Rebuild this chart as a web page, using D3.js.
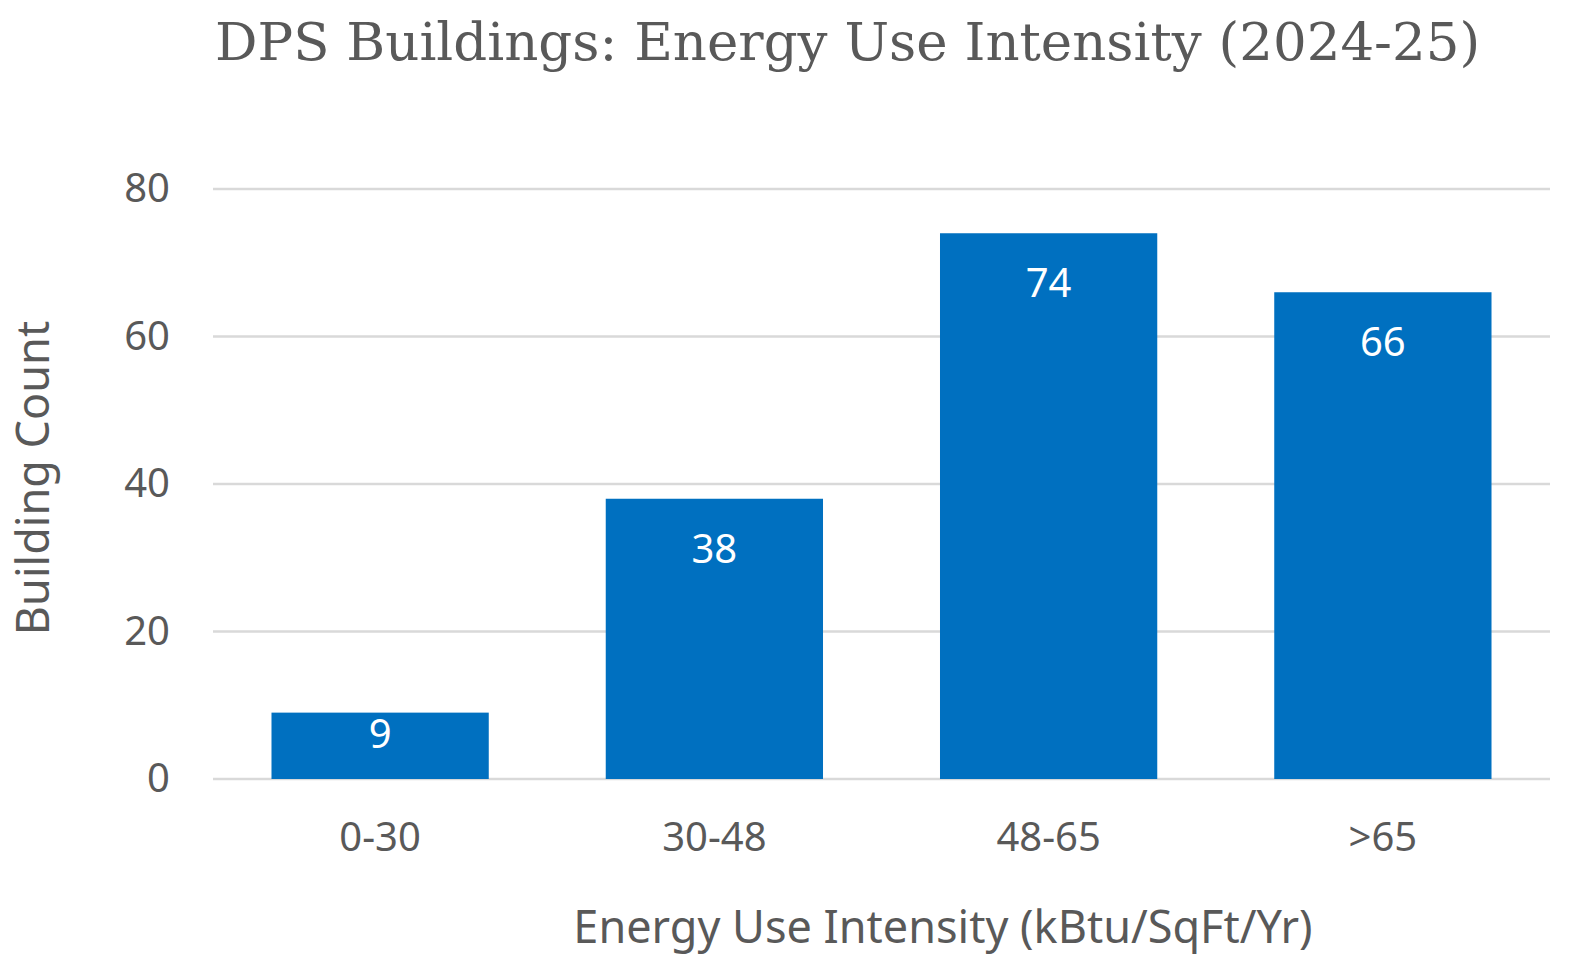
<!DOCTYPE html>
<html>
<head>
<meta charset="utf-8">
<script src="https://cdn.jsdelivr.net/npm/d3@7"></script>
<style>
  body { margin: 0; background: #fff; }
  svg text { font-family: "Noto Sans", "Open Sans", sans-serif; fill: #595959; }
</style>
</head>
<body>
<svg id="chart" width="1588" height="978"></svg>
<script>
// data
const categories = ['0-30', '30-48', '48-65', '>65'];
const counts = [9, 38, 74, 66];
const yTicks = [0, 20, 40, 60, 80];

document.addEventListener('DOMContentLoaded', function() {
    const svg = d3.select('#chart');
    const margin = { top: 189, right: 38, bottom: 199, left: 213 };
    const width = 1588, height = 978;

    const x = d3.scaleBand()
        .domain(categories)
        .range([margin.left, width - margin.right])
        .paddingInner(0.35)
        .paddingOuter(0.175);

    const y = d3.scaleLinear()
        .domain([0, 80])
        .range([height - margin.bottom, margin.top]);

    // gridlines
    svg.append('g')
        .selectAll('line')
        .data(yTicks)
        .enter().append('line')
        .attr('x1', margin.left)
        .attr('x2', width - margin.right)
        .attr('y1', d => y(d))
        .attr('y2', d => y(d))
        .attr('stroke', '#d9d9d9')
        .attr('stroke-width', 2.5);

    // y tick labels
    const yAxis = d3.axisLeft(y).tickValues(yTicks).tickSize(0).tickPadding(43);
    const gy = svg.append('g')
        .attr('transform', `translate(${margin.left},0)`)
        .call(yAxis);
    gy.select('.domain').remove();
    gy.selectAll('text')
        .attr('font-size', 40)
        .attr('font-family', '"Noto Sans", sans-serif')
        .attr('fill', '#595959');

    // bars
    svg.selectAll('.bar')
        .data(counts)
        .enter().append('rect')
        .attr('class', 'bar')
        .attr('x', (d, i) => x(categories[i]))
        .attr('y', d => y(d))
        .attr('width', x.bandwidth())
        .attr('height', d => y(0) - y(d))
        .attr('fill', '#0070c0');

    // value labels (short bars get the label nearer the top)
    svg.selectAll('.val')
        .data(counts)
        .enter().append('text')
        .attr('class', 'val')
        .attr('x', (d, i) => x(categories[i]) + x.bandwidth() / 2)
        .attr('y', d => (y(0) - y(d) < 120) ? y(d) + 35 : y(d) + 64)
        .attr('text-anchor', 'middle')
        .attr('font-size', 40)
        .style('fill', '#fff')
        .text(d => d);

    // x tick labels
    const xAxis = d3.axisBottom(x).tickSize(0).tickPadding(44);
    const gx = svg.append('g')
        .attr('transform', `translate(0,${y(0)})`)
        .call(xAxis);
    gx.select('.domain').remove();
    gx.selectAll('text')
        .attr('font-size', 40)
        .attr('font-family', '"Noto Sans", sans-serif')
        .attr('fill', '#595959');

    // axis titles
    svg.append('text')
        .attr('x', 943)
        .attr('y', 943)
        .attr('text-anchor', 'middle')
        .attr('font-size', 45)
        .text('Energy Use Intensity (kBtu/SqFt/Yr)');

    svg.append('text')
        .attr('transform', `translate(49,478) rotate(-90)`)
        .attr('text-anchor', 'middle')
        .attr('font-size', 45)
        .text('Building Count');

    // title
    svg.append('text')
        .attr('x', 215)
        .attr('y', 60)
        .attr('text-anchor', 'start')
        .attr('font-size', 53)
        .style('font-family', '"DejaVu Serif", serif')
        .text('DPS Buildings: Energy Use Intensity (2024-25)');
});
</script>
</body>
</html>
